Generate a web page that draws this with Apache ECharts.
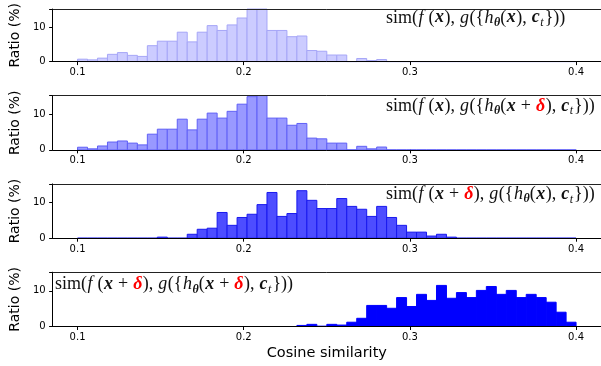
<!DOCTYPE html>
<html><head><meta charset="utf-8">
<script src="https://cdn.jsdelivr.net/npm/echarts@6/dist/echarts.min.js"></script>
<style>html,body{margin:0;padding:0;background:#fff;}#c{width:601px;height:366px;}</style>
</head><body><div id="c"></div>
<script>
// Histogram bin left/right edges (cosine similarity), 50 bins between 0.1 and 0.4
const binEdges = [0.100,0.106,0.112,0.118,0.124,0.130,0.136,0.142,0.148,0.154,
  0.160,0.166,0.172,0.178,0.184,0.190,0.196,0.202,0.208,0.214,
  0.220,0.226,0.232,0.238,0.244,0.250,0.256,0.262,0.268,0.274,
  0.280,0.286,0.292,0.298,0.304,0.310,0.316,0.322,0.328,0.334,
  0.340,0.346,0.352,0.358,0.364,0.370,0.376,0.382,0.388,0.394,0.400];
const xTicks = [0.1, 0.2, 0.3, 0.4];
const yTicks = [0, 10];

// Ratio (%) per bin for each panel
const ratioCleanClean = [0.7,0.5,1.0,2.1,2.6,1.8,1.5,4.6,5.9,5.9,
  8.5,5.7,8.5,10.4,9.0,10.6,12.6,16.0,15.6,9.0,
  9.0,7.2,7.4,3.2,3.0,1.9,1.9,0,0.9,0.3,
  0.6,0,0,0,0,0,0,0,0,0, 0,0,0,0,0,0,0,0,0,0];
const ratioCleanAdv = [0.75,0.3,1.1,2.2,2.5,1.9,1.4,4.4,5.8,5.8,
  8.6,5.6,8.6,10.3,8.9,10.8,12.8,14.9,15.5,8.9,
  8.9,6.9,7.4,3.3,3.1,1.9,1.9,0,1.0,0.3,
  0.8,0,0,0,0,0,0,0,0,0, 0,0,0,0,0,0,0,0,0,0];
const ratioAdvClean = [0,0,0,0,0,0,0,0,0.3,0,
  0,1.1,2.5,2.8,7.2,3.6,5.8,6.7,9.4,12.8,
  6.1,6.9,13.3,10.6,8.3,8.3,11.1,8.9,8.1,6.1,
  8.9,5.8,3.6,1.7,1.7,0.6,1.1,0.3,0,0, 0,0,0,0,0,0,0,0,0,0];
const ratioAdvAdv = [0,0,0,0,0,0,0,0,0,0,
  0,0,0,0,0,0,0,0,0,0,
  0,0,0.3,0.6,0.1,0.6,0.4,1.2,2.3,5.9,
  5.9,5.1,8.1,5.6,9.0,7.3,11.5,7.9,9.5,8.1,
  10.1,11.2,9.0,10.1,8.1,9.0,8.1,6.8,4.0,1.2];

const panels = [
  {data: ratioCleanClean, fill: '#ccccff', stroke: '#a6a6f7',
   label: '{n|sim(}{i|f}{n| (}{b|x}{n|), }{i|g}{n|({}{i|h}{s|θ}{n|(}{b|x}{n|), }{b|c}{t|t}}))', left: 386},
  {data: ratioCleanAdv, fill: '#9999ff', stroke: '#6060f6',
   label: '{n|sim(}{i|f}{n| (}{b|x}{n|), }{i|g}{n|({}{i|h}{s|θ}{n|(}{b|x}{n| + }{r|δ}{n|), }{b|c}{t|t}}))', left: 386},
  {data: ratioAdvClean, fill: '#4d4dff', stroke: '#1818ee',
   label: '{n|sim(}{i|f}{n| (}{b|x}{n| + }{r|δ}{n|), }{i|g}{n|({}{i|h}{s|θ}{n|(}{b|x}{n|), }{b|c}{t|t}}))', left: 386},
  {data: ratioAdvAdv, fill: '#0000ff', stroke: '#0000ff',
   label: '{n|sim(}{i|f}{n| (}{b|x}{n| + }{r|δ}{n|), }{i|g}{n|({}{i|h}{s|θ}{n|(}{b|x}{n| + }{r|δ}{n|), }{b|c}{t|t}}))', left: 55}
];

const chart = echarts.init(document.getElementById('c'), null, {renderer: 'canvas'});
const gridTop0 = 7.3, gridStep = 88.3, gridH = 54.3;
const xMin = 0.085, xMax = 0.415, yMax = 15.2;
const sans = 'DejaVu Sans';
const serif = 'Liberation Serif';
const FS = 18;
const LH = 22;
const ink = '#111';
const rich = {
  n: {fontFamily: serif, fontSize: FS, lineHeight: LH, fill: ink},
  i: {fontFamily: serif, fontSize: FS, fontStyle: 'italic', lineHeight: LH, fill: ink, padding: [0, 0.5, 0, 0.5]},
  b: {fontFamily: serif, fontSize: FS, fontStyle: 'italic', fontWeight: 'bold', lineHeight: LH, fill: ink, padding: [0, 0.5, 0, 0.5]},
  r: {fontFamily: serif, fontSize: FS, fontStyle: 'italic', fontWeight: 'bold', lineHeight: LH, fill: '#ff0000', padding: [0, 0.5, 0, 0.5]},
  s: {fontFamily: serif, fontSize: 12, fontStyle: 'italic', fontWeight: 'bold', lineHeight: 10, verticalAlign: 'bottom', fill: ink},
  t: {fontFamily: serif, fontSize: 12, fontStyle: 'italic', lineHeight: 10, verticalAlign: 'bottom', fill: ink, padding: [0, 1, 0, 0]}
};

const grids = [], xAxes = [], yAxes = [], series = [], graphics = [];
panels.forEach((p, k) => {
  const top = gridTop0 + gridStep * k;
  grids.push({left: 52, width: 550.3, top: top, height: gridH, containLabel: false});
  const isLast = k === panels.length - 1;
  xAxes.push({
    type: 'value', gridIndex: k, min: xMin, max: xMax, position: 'bottom', z: 5,
    splitLine: {show: false},
    axisLine: {show: true, onZero: false, lineStyle: {color: '#000', width: 1}},
    axisTick: {show: true, customValues: xTicks, length: 3.5, lineStyle: {color: '#000'}},
    axisLabel: {show: true, customValues: xTicks, margin: 6, color: '#000', fontFamily: sans, fontSize: 10,
      formatter: v => v.toFixed(1)},
    name: isLast ? 'Cosine similarity' : '', nameLocation: 'middle', nameGap: 19,
    nameTextStyle: {fontFamily: sans, fontSize: 14.5, color: '#000'}
  });
  xAxes.push({
    type: 'value', gridIndex: k, min: xMin, max: xMax, position: 'top', z: 5,
    splitLine: {show: false}, axisTick: {show: false}, axisLabel: {show: false},
    axisLine: {show: true, onZero: false, lineStyle: {color: '#222', width: 1}}
  });
  yAxes.push({
    type: 'value', gridIndex: k, min: 0, max: yMax, interval: 10, z: 5,
    splitLine: {show: false},
    axisLine: {show: true, onZero: false, lineStyle: {color: '#000', width: 1}},
    axisTick: {show: true, length: 3.5, lineStyle: {color: '#000'}},
    axisLabel: {margin: 7, color: '#000', fontFamily: sans, fontSize: 10,
      formatter: v => (yTicks.indexOf(v) >= 0 ? String(v) : '')},
    name: 'Ratio (%)', nameLocation: 'middle', nameGap: 20, nameRotate: 90,
    nameTextStyle: {fontFamily: sans, fontSize: 14, color: '#000'}
  });
  const data = p.data.map((v, i) => [binEdges[i], binEdges[i + 1], v]);
  series.push({
    type: 'custom', xAxisIndex: 2 * k, yAxisIndex: k, data: data,
    encode: {x: [0, 1], y: 2}, silent: true, animation: false,
    renderItem: (params, api) => {
      const a = api.coord([api.value(0), 0]);
      const b = api.coord([api.value(1), api.value(2)]);
      const cs = params.coordSys;
      const y1 = Math.max(b[1], cs.y);
      const rect = {x: a[0], y: y1, width: b[0] - a[0], height: a[1] - y1};
      return {type: 'rect', shape: rect,
        style: {fill: p.fill, stroke: p.stroke, lineWidth: 1}};
    }
  });
  graphics.push({
    type: 'text', left: p.left, top: top - 0.5 + (k === 3 ? 2 : 0), z: 10,
    style: {text: p.label, rich: rich, fontFamily: serif, fontSize: FS, fill: ink, lineHeight: LH}
  });
});

chart.setOption({
  animation: false,
  backgroundColor: '#fff',
  grid: grids, xAxis: xAxes, yAxis: yAxes, series: series, graphic: graphics
});
</script></body></html>
